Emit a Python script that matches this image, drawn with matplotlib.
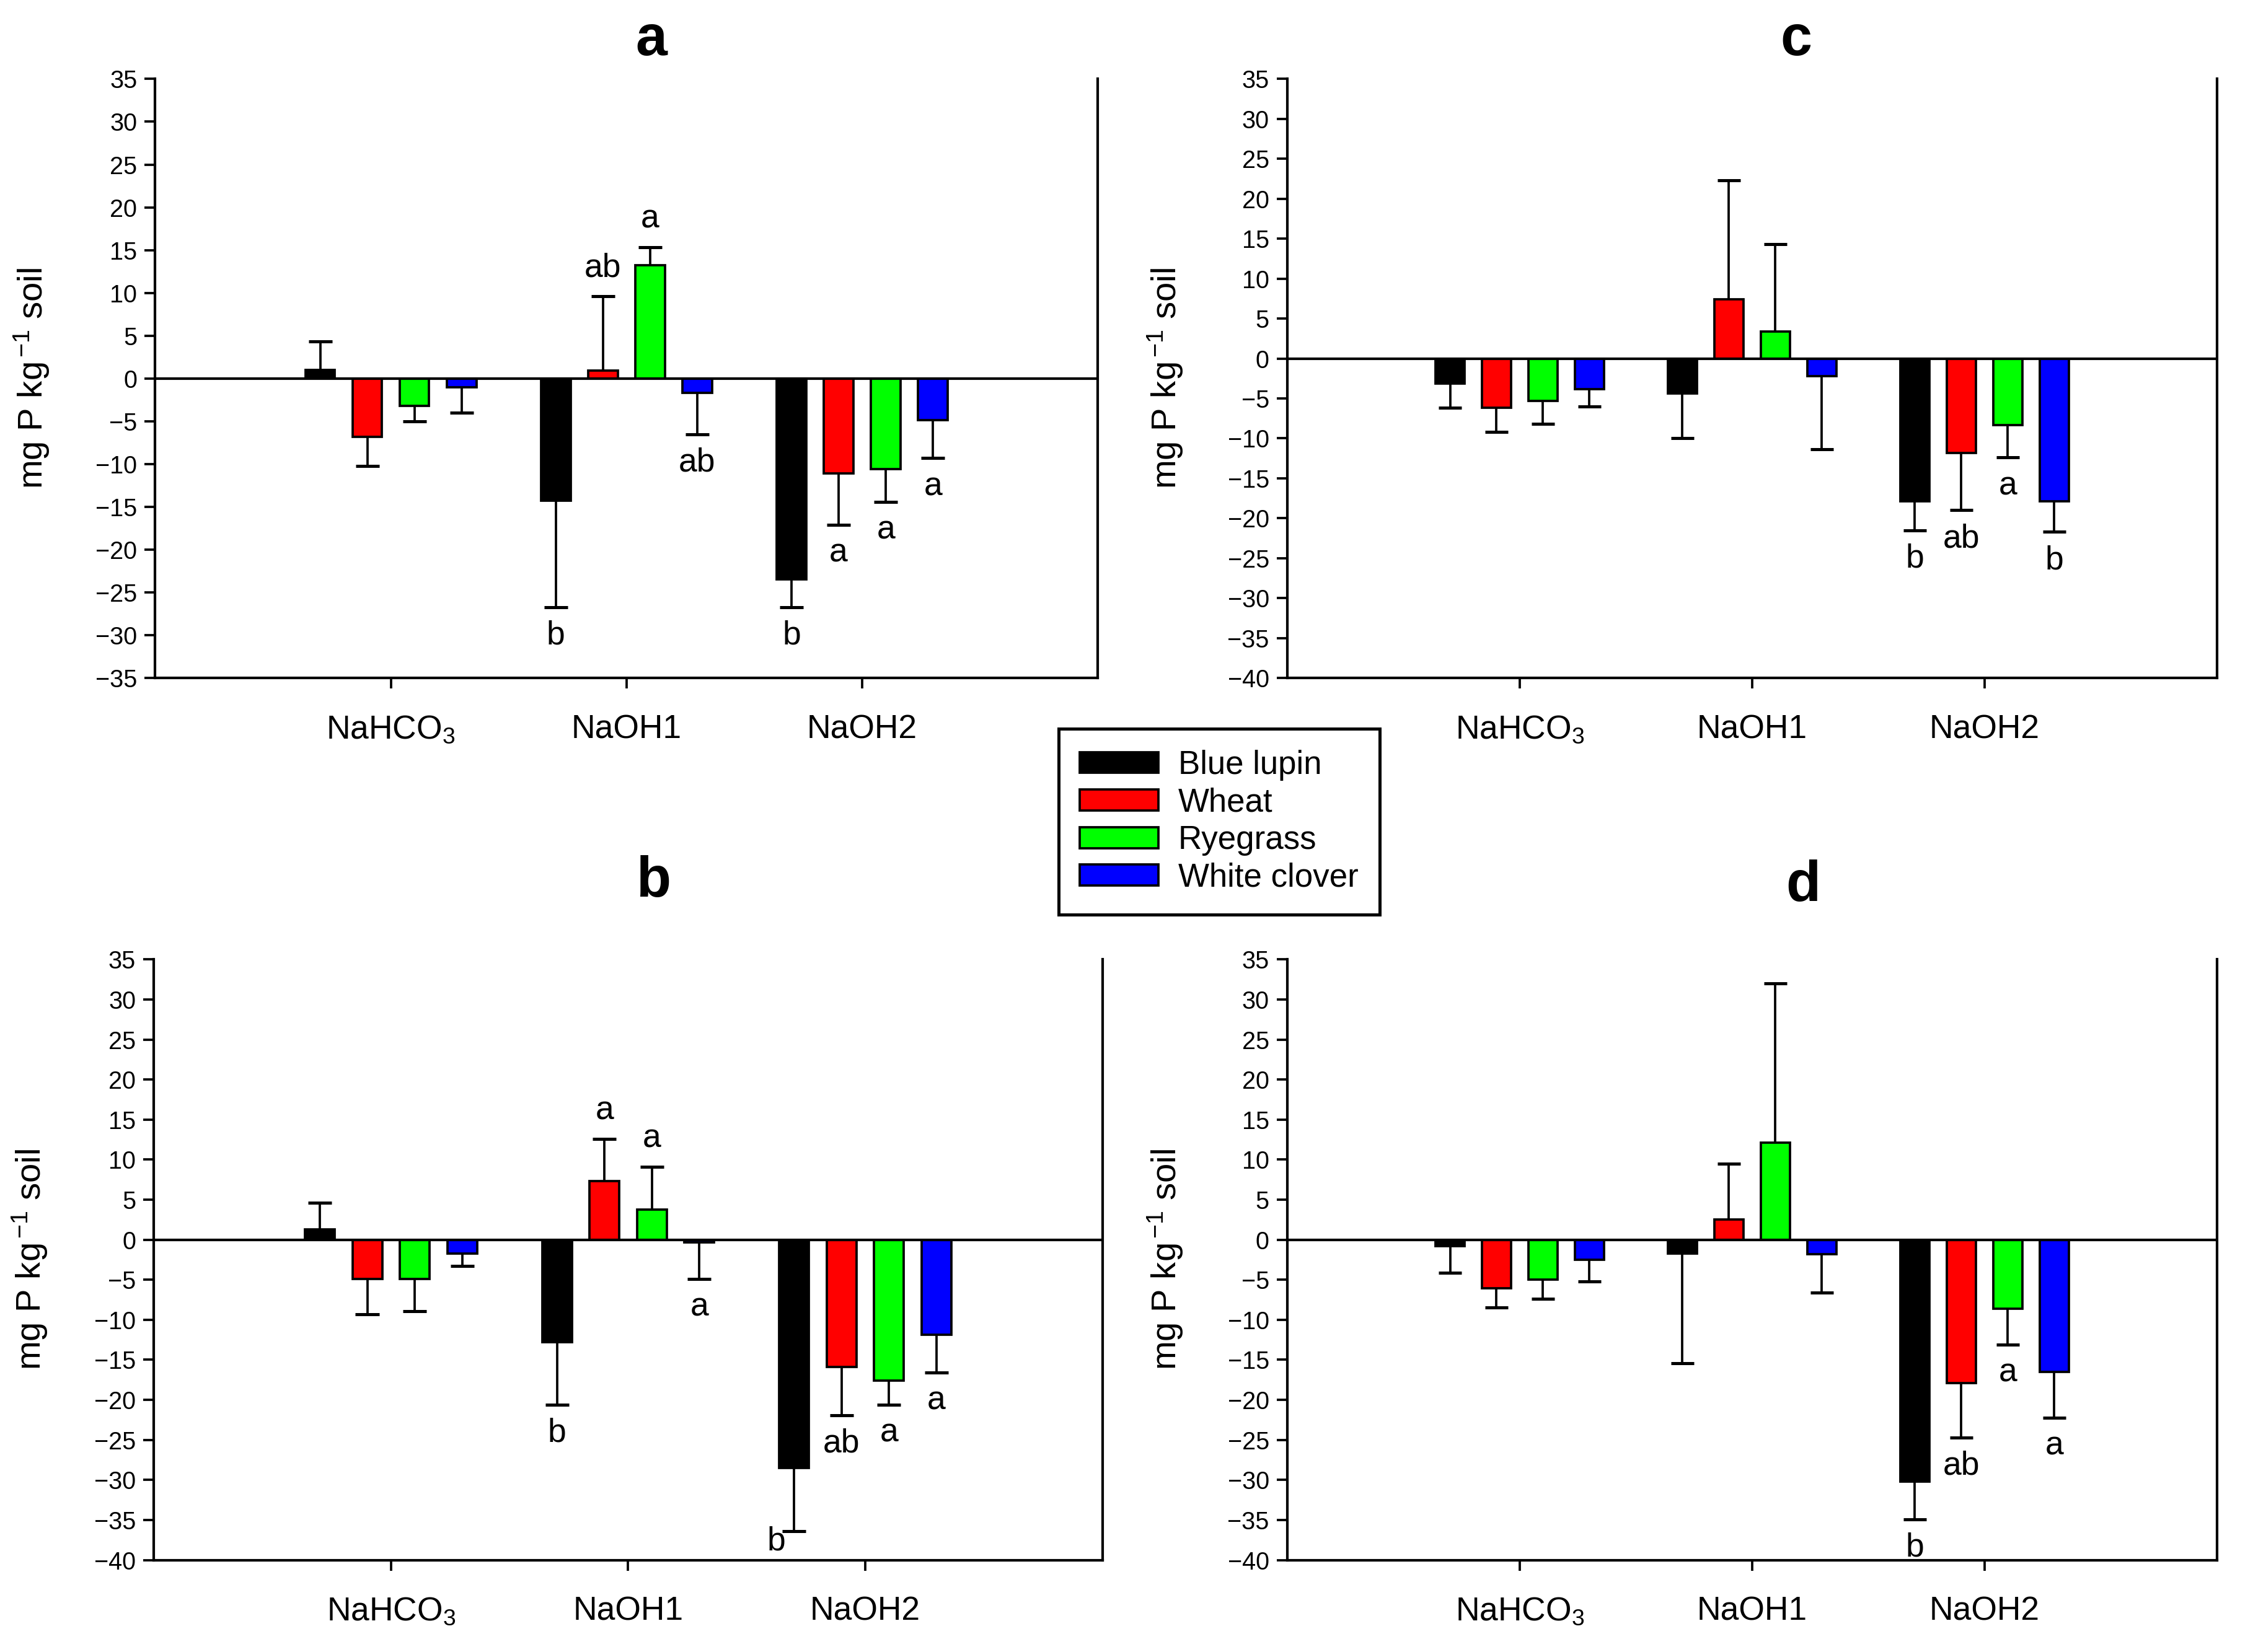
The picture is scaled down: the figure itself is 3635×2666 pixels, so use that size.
import numpy as np
import matplotlib.pyplot as plt
from matplotlib.patches import Patch

plt.rcParams['font.family'] = ['Liberation Sans', 'DejaVu Sans']
plt.rcParams['mathtext.fontset'] = 'custom'
plt.rcParams['mathtext.rm'] = 'Liberation Sans'
plt.rcParams['mathtext.it'] = 'Liberation Sans:italic'
plt.rcParams['mathtext.bf'] = 'Liberation Sans:bold'

fractions = ['NaHCO$_3$', 'NaOH1', 'NaOH2']
plants = ['Blue lupin', 'Wheat', 'Ryegrass', 'White clover']
colors = ['#000000', '#ff0000', '#00ff00', '#0000ff']

# rows = plants, cols = fractions (NaHCO3, NaOH1, NaOH2)
a_mean = [[1.0, -14.3, -23.5], [-6.8, 0.9, -11.1], [-3.2, 13.2, -10.6], [-1.0, -1.7, -4.9]]
a_err = [[3.3, 12.4, 3.2], [3.4, 8.7, 6.0], [1.8, 2.1, 3.8], [3.0, 4.8, 4.4]]
a_letters = [['', 'b', 'b'], ['', 'ab', 'a'], ['', 'a', 'a'], ['', 'ab', 'a']]

b_mean = [[1.3, -12.8, -28.5], [-4.9, 7.3, -15.9], [-4.9, 3.8, -17.6], [-1.7, -0.3, -11.9]]
b_err = [[3.3, 7.8, 7.9], [4.4, 5.3, 6.0], [4.0, 5.3, 3.0], [1.6, 4.6, 4.7]]
b_letters = [['', 'b', 'b'], ['', 'a', 'ab'], ['', 'a', 'a'], ['', 'a', 'a']]

c_mean = [[-3.1, -4.4, -17.9], [-6.2, 7.4, -11.8], [-5.3, 3.4, -8.3], [-3.8, -2.2, -17.9]]
c_err = [[3.1, 5.6, 3.6], [3.0, 14.9, 7.2], [2.9, 10.9, 4.1], [2.2, 9.2, 3.8]]
c_letters = [['', '', 'b'], ['', '', 'ab'], ['', '', 'a'], ['', '', 'b']]

d_mean = [[-0.8, -1.7, -30.2], [-6.1, 2.5, -17.9], [-5.0, 12.1, -8.6], [-2.5, -1.8, -16.5]]
d_err = [[3.3, 13.7, 4.7], [2.4, 7.0, 6.8], [2.4, 19.9, 4.5], [2.7, 4.8, 5.7]]
d_letters = [['', '', 'b'], ['', '', 'ab'], ['', '', 'a'], ['', '', 'a']]

fig = plt.figure(figsize=(3635 / 300, 2666 / 300), dpi=300)

bar_w = 0.125
cap_half = 0.05


def draw_panel(rect, name, title_xy, means, errs, letters, ymin, letter_shift=None):
    ax = fig.add_axes(rect)
    x = np.arange(1, len(fractions) + 1)
    for i, (m, e) in enumerate(zip(means, errs)):
        m = np.array(m)
        e = np.array(e)
        xs = x + (i - 1.5) * 0.2
        ax.bar(xs, m, width=bar_w, color=colors[i], edgecolor='black', linewidth=0.9, zorder=2)
        ends = m + np.sign(m) * e
        ax.vlines(xs, m, ends, color='black', linewidth=0.9, zorder=3)
        ax.hlines(ends, xs - cap_half, xs + cap_half, color='black', linewidth=1.2, zorder=3)
        for j, lab in enumerate(letters[i]):
            if not lab:
                continue
            off = (0, 11 if ends[j] > 0 else -11)
            if letter_shift and (i, j) in letter_shift:
                off = letter_shift[(i, j)]
            ax.annotate(lab, (xs[j], ends[j]), xytext=off, textcoords='offset points',
                        ha='center', va='center', fontsize=12.8)
    ax.axhline(0, color='black', linewidth=1.0, zorder=4)
    ax.set_xlim(0, 4)
    ax.set_ylim(ymin, 35)
    ax.set_yticks(np.arange(ymin, 36, 5))
    ax.set_xticks(x)
    ax.set_xticklabels(fractions, fontsize=12.8)
    ax.tick_params(axis='y', labelsize=9.5, length=4, width=0.9, pad=3, direction='out')
    ax.tick_params(axis='x', length=4, width=0.9, pad=10, direction='out')
    ax.spines['top'].set_visible(False)
    for s in ['left', 'right', 'bottom']:
        ax.spines[s].set_linewidth(1.0)
    ax.set_ylabel('mg P kg$^{\\,\\mathregular{-1}}$ soil', fontsize=13.5)
    ax.yaxis.set_label_coords(-0.11, 0.5)
    ax.text(title_xy[0], title_xy[1], name, transform=ax.transAxes, fontsize=22,
            fontweight='bold', ha='center', va='center')
    return ax


draw_panel([0.0689, 0.5896, 0.4184, 0.3626], 'a', (0.526, 1.065), a_mean, a_err, a_letters, -35)
draw_panel([0.5714, 0.5896, 0.4126, 0.3626], 'c', (0.547, 1.065), c_mean, c_err, c_letters, -40)
draw_panel([0.0683, 0.0557, 0.4210, 0.3635], 'b', (0.527, 1.129), b_mean, b_err, b_letters, -40,
           letter_shift={(0, 2): (-7, -4)})
draw_panel([0.5714, 0.0557, 0.4126, 0.3635], 'd', (0.555, 1.122), d_mean, d_err, d_letters, -40)

handles = [Patch(facecolor=c, edgecolor='black', linewidth=0.9) for c in colors]
leg = fig.legend(handles, plants, loc='center', bbox_to_anchor=(0.5411, 0.5026), fontsize=12.7,
                 frameon=True, fancybox=False, edgecolor='black', framealpha=1,
                 handlelength=2.4, handleheight=0.6, handletextpad=0.6, labelspacing=0.2,
                 borderpad=0.65)
leg.get_frame().set_linewidth(1.2)

fig.savefig('out.png', dpi=300)
